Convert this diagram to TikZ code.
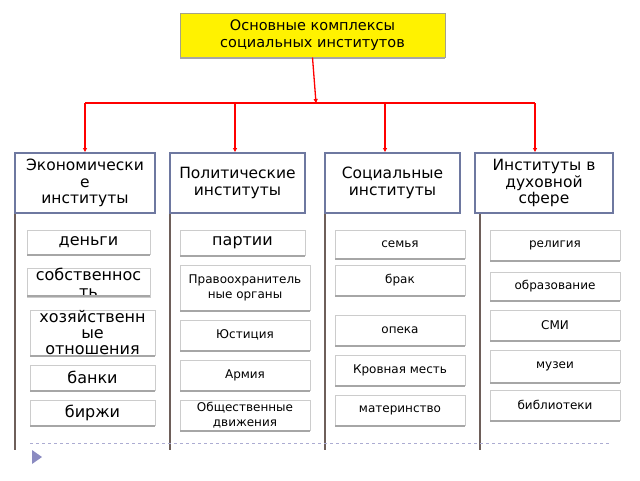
\documentclass[tikz,border=0pt]{standalone}
\usepackage{fontspec}
\setmainfont{DejaVu Sans}
\usetikzlibrary{arrows.meta}
\definecolor{hb}{RGB}{110,120,160}
\definecolor{pc}{RGB}{110,95,90}
\begin{document}
\begin{tikzpicture}[x=1pt,y=-1pt,
 hdr/.style={draw=hb,line width=1.3pt,fill=white,align=center},
 item/.style={draw=gray!40,fill=white,align=center,inner sep=0pt},
 shd/.style={draw=gray!70,line width=1.5pt},
 red/.style={draw=red,line width=1.3pt},
 arr/.style={red,-{Triangle[width=4pt,length=4pt]}},
 post/.style={draw=pc,line width=2.5pt}]
\useasboundingbox (0,0) rectangle (640,480);
% top
\node[draw=gray!80!yellow,line width=1pt,fill=yellow,align=center,minimum width=265pt,minimum height=44pt,font=\fontsize{14.5}{17}\selectfont] (top) at (312.5,35) {Основные комплексы\\социальных институтов};
\draw[shd] (180,58)--(445,58);
\coordinate (j) at (316,103);
\draw[arr] (top.south) -- (j);
\coordinate (l) at (85,103); \coordinate (r) at (535,103);
\draw[red] (l) -- (r);
% headers
\foreach \n/\xa/\xb/\t in {h1/15/155/{Экономически\\е\\институты},h2/170/305/{Политические\\институты},h3/325/460/{Социальные\\институты},h4/475/613/{Институты в\\духовной\\сфере}}{
 \node[hdr,minimum width=\xb-\xa,minimum height=60pt,inner sep=0pt,font=\fontsize{15.5}{16.5}\selectfont] (\n) at ({(\xa+\xb)/2},183) {\t};
}
\foreach \n/\x in {h1/85,h2/235,h3/385,h4/535}{
 \coordinate (a\n) at (\x,103);
 \draw[arr] (a\n) -- (\x,152);
}
\foreach \x/\n in {15/p1,170/p2,325/p3,480/p4}{
 \coordinate (\n) at (\x,214); \coordinate (\n e) at (\x,450);
 \draw[post] (\n) -- (\n e);
}
% items
\newcommand\itm[7]{% name x1 y1 x2 y2 fontsize text
 \node[item,minimum width=#4-#2,minimum height=#5-#3,font=\fontsize{#6}{#6}\selectfont] (#1) at ({(#2+#4)/2},{(#3+#5)/2}) {#7};
 \draw[shd] (#2,#5+1)--(#4,#5+1);}
\itm{e1}{27}{230}{150}{254}{16}{деньги}
\itm{e2}{27}{270}{150}{295}{16}{\raisebox{4pt}{\parbox{120pt}{\centering собственнос\\[1pt]ть}}}
\itm{e3}{30}{310}{155}{355}{16}{хозяйственн\\ые\\отношения}
\itm{e4}{30}{365}{155}{390}{16}{банки}
\itm{e5}{30}{400}{155}{425}{16}{биржи}
\itm{p1a}{180}{230}{305}{255}{16}{партии}
\itm{p2a}{180}{265}{310}{310}{12}{Правоохранитель\\[3pt]ные органы}
\itm{p3a}{180}{320}{310}{350}{12}{Юстиция}
\itm{p4a}{180}{360}{310}{390}{12}{Армия}
\itm{p5a}{180}{400}{310}{430}{12}{Общественные\\[3pt]движения}
\itm{s1}{335}{230}{465}{258}{12}{семья}
\itm{s2}{335}{265}{465}{295}{12}{брак}
\itm{s3}{335}{315}{465}{345}{12}{опека}
\itm{s4}{335}{355}{465}{385}{12}{Кровная месть}
\itm{s5}{335}{395}{465}{425}{12}{материнство}
\itm{d1}{490}{230}{620}{260}{12}{религия}
\itm{d2}{490}{272}{620}{300}{12}{образование}
\itm{d3}{490}{310}{620}{340}{12}{СМИ}
\itm{d4}{490}{350}{620}{382}{12}{музеи}
\itm{d5}{490}{390}{620}{420}{12}{библиотеки}
% footer
\coordinate (f1) at (30,443); \coordinate (f2) at (610,443);
\draw[blue!30!gray!50,dashed,line width=0.8pt] (f1) -- (f2);
\fill[blue!30!gray!70] (32,450) -- (42,457) -- (32,464) -- cycle;
\end{tikzpicture}
\end{document}
